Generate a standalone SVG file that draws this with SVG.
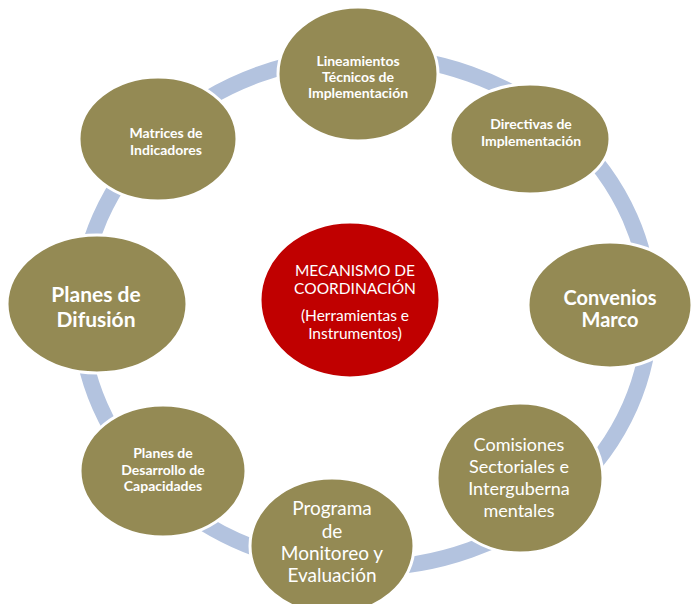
<svg xmlns="http://www.w3.org/2000/svg" width="691" height="604" viewBox="0 0 691 604">
<style>
.node{fill:#948A54;stroke:#ffffff;stroke-width:3}
.center{fill:#C00000;stroke:#ffffff;stroke-width:3}
.ring{fill:none;stroke:#B3C3DF;stroke-width:16}
text{font-family:Lato,"Liberation Sans",sans-serif;fill:#ffffff;text-anchor:middle}
.b{font-weight:bold}
.s{font-size:14px}
.m{font-size:18px}
.l{font-size:20px}
.xl{font-size:21px}
</style>
<rect width="691" height="604" fill="#ffffff"/>
<g id="connectors">
<ellipse class="ring" cx="365" cy="312" rx="285" ry="256"/>
</g>
<g id="node-lineamientos">
<ellipse class="node" cx="358" cy="74" rx="80" ry="67"/>
<text class="b s" x="358" y="66">Lineamientos</text>
<text class="b s" x="358" y="82">Técnicos de</text>
<text class="b s" x="358" y="98">Implementación</text>
</g>
<g id="node-directivas">
<ellipse class="node" cx="530" cy="139" rx="80" ry="55"/>
<text class="b s" x="531" y="129">Directivas de</text>
<text class="b s" x="531" y="146">Implementación</text>
</g>
<g id="node-matrices">
<ellipse class="node" cx="158" cy="139" rx="79" ry="62"/>
<text class="b s" x="166" y="138">Matrices de</text>
<text class="b s" x="166" y="155">Indicadores</text>
</g>
<g id="node-difusion">
<ellipse class="node" cx="97" cy="304" rx="90" ry="69"/>
<text class="b xl" x="96" y="302">Planes de</text>
<text class="b xl" x="96" y="327">Difusión</text>
</g>
<g id="node-center">
<ellipse class="center" cx="350" cy="300" rx="90" ry="78"/>
<text style="font-size:15.5px" x="355" y="276">MECANISMO DE</text>
<text style="font-size:15.5px" x="355" y="294">COORDINACIÓN</text>
<text style="font-size:15.5px" x="355" y="321">(Herramientas e</text>
<text style="font-size:15.5px" x="355" y="339">Instrumentos)</text>
</g>
<g id="node-convenios">
<ellipse class="node" cx="610" cy="305" rx="82" ry="63"/>
<text class="b l" x="610" y="305">Convenios</text>
<text class="b l" x="610" y="327">Marco</text>
</g>
<g id="node-comisiones">
<ellipse class="node" cx="520" cy="478" rx="83" ry="75"/>
<text class="m" x="519" y="451">Comisiones</text>
<text class="m" x="519" y="473">Sectoriales e</text>
<text class="m" x="519" y="495">Interguberna</text>
<text class="m" x="519" y="517">mentales</text>
</g>
<g id="node-programa">
<ellipse class="node" cx="332" cy="546" rx="82" ry="68"/>
<text style="font-size:19px" x="332" y="515">Programa</text>
<text style="font-size:19px" x="332" y="538">de</text>
<text style="font-size:19px" x="332" y="560">Monitoreo y</text>
<text style="font-size:19px" x="332" y="582">Evaluación</text>
</g>
<g id="node-desarrollo">
<ellipse class="node" cx="163" cy="471" rx="83" ry="66"/>
<text class="b s" x="163" y="458">Planes de</text>
<text class="b s" x="163" y="475">Desarrollo de</text>
<text class="b s" x="163" y="491">Capacidades</text>
</g>
</svg>
